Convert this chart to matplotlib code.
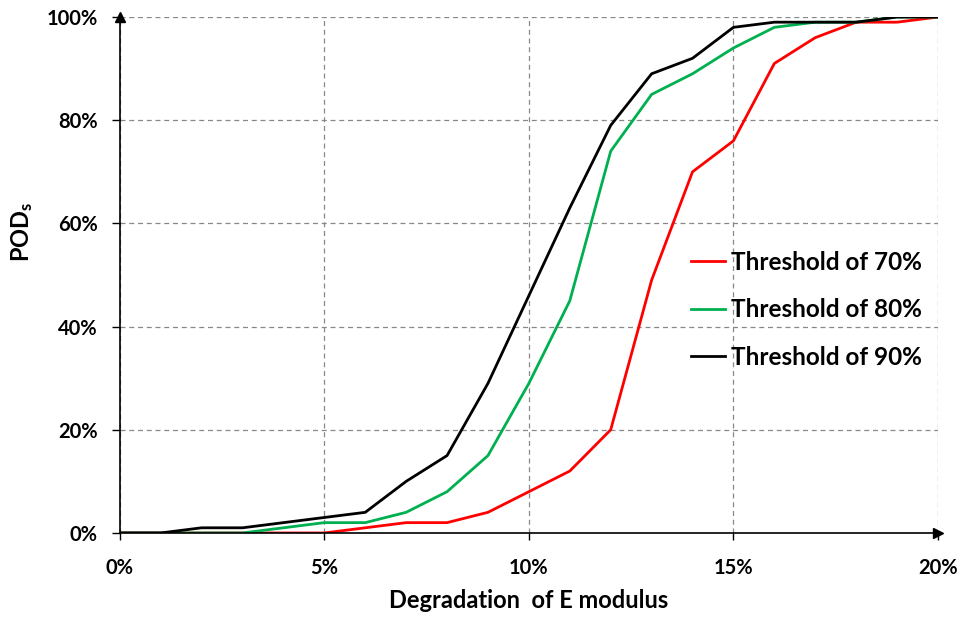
import matplotlib
matplotlib.use("Agg")
import matplotlib.pyplot as plt
from matplotlib.ticker import FuncFormatter

plt.rcParams['font.family'] = ['Lato', 'DejaVu Sans']
plt.rcParams['font.weight'] = 'bold'
plt.rcParams['mathtext.fontset'] = 'custom'
plt.rcParams['mathtext.rm'] = 'Lato'
plt.rcParams['mathtext.bf'] = 'Lato:bold'

degradation = list(range(0, 21))  # % of E modulus
pod_70 = [0, 0, 0, 0, 0, 0, 1, 2, 2, 4, 8, 12, 20, 49, 70, 76, 91, 96, 99, 99, 100]
pod_80 = [0, 0, 0, 0, 1, 2, 2, 4, 8, 15, 29, 45, 74, 85, 89, 94, 98, 99, 99, 100, 100]
pod_90 = [0, 0, 1, 1, 2, 3, 4, 10, 15, 29, 46, 63, 79, 89, 92, 98, 99, 99, 99, 100, 100]
labels = ["Threshold of 70%", "Threshold of 80%", "Threshold of 90%"]
colors = ["#FF0000", "#00B050", "#000000"]

fig = plt.figure(figsize=(9.66, 6.19), dpi=100)
ax = fig.add_axes([0.124, 0.139, 0.847, 0.8335])

for vals, lab, c in zip([pod_70, pod_80, pod_90], labels, colors):
    ax.plot(degradation, vals, color=c, lw=2.0, label=lab)

ax.set_xlim(0, 20)
ax.set_ylim(0, 100)
ax.set_xticks([0, 5, 10, 15, 20])
ax.set_yticks([0, 20, 40, 60, 80, 100])
ax.xaxis.set_major_formatter(FuncFormatter(lambda v, p: f"{v:.0f}%"))
ax.yaxis.set_major_formatter(FuncFormatter(lambda v, p: f"{v:.0f}%"))
ax.tick_params(axis='x', direction='out', length=5, width=1, pad=13, labelsize=14.5)
ax.tick_params(axis='y', direction='out', length=6, width=1, pad=10, labelsize=14.5)

ax.grid(True, color='#888888', linestyle=(0, (4, 3)), linewidth=0.9)
ax.set_axisbelow(True)
for s in ['top', 'right']:
    ax.spines[s].set_visible(False)
for s in ['left', 'bottom']:
    ax.spines[s].set_linewidth(1.2)

# axis arrows
ax.plot(0, 1, marker='^', color='black', markersize=7, transform=ax.transAxes, clip_on=False)
ax.plot(1, 0, marker='>', color='black', markersize=7, transform=ax.transAxes, clip_on=False)

ax.set_xlabel("Degradation  of E modulus", fontsize=17, fontweight='bold')
ax.xaxis.set_label_coords(0.5, -0.108)
ax.set_ylabel(r"$\mathbf{POD_s}$", fontsize=17)
ax.yaxis.set_label_coords(-0.104, 0.583)

ax.legend(loc='upper left', bbox_to_anchor=(0.672, 0.589), frameon=False,
          fontsize=17.5, handlelength=1.36, handletextpad=0.25, labelspacing=1.0)

fig.savefig("out.png", dpi=100)
